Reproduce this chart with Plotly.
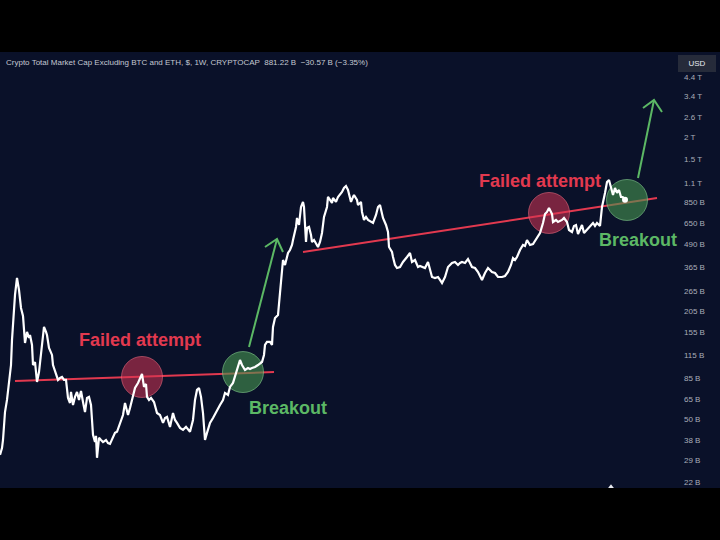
import math
import plotly.graph_objects as go

# ---------------- data (weeks since start, values in billions USD) ----------------
week = [
    0.0, 1.2, 1.8, 2.4, 3.0, 4.2, 5.4, 6.6, 7.2, 7.8, 8.4, 9.0,
    10.2, 11.4, 12.6, 13.2, 13.8, 15.0, 16.2, 17.4, 18.0, 19.2, 19.8, 21.0,
    22.2, 23.4, 25.2, 26.4, 27.6, 28.2, 29.4, 30.6, 31.2, 31.8, 33.0, 33.6,
    34.8, 36.0, 37.2, 38.4, 39.6, 40.8, 42.0, 42.6, 43.8, 45.0, 46.2, 47.4,
    48.6, 49.8, 51.0, 52.2, 53.4, 54.6, 55.8, 57.0, 57.6, 58.2, 59.4, 60.6,
    61.8, 63.6, 64.8, 66.0, 67.8, 69.0, 70.2, 72.0, 73.8, 75.0, 76.8, 78.0,
    79.2, 81.0, 82.8, 84.0, 85.2, 86.4, 87.6, 88.2, 89.4, 90.6, 92.4, 94.2,
    96.0, 97.8, 99.0, 100.2, 102.0, 103.8, 105.0, 106.2, 108.0, 109.8, 111.6, 114.0,
    115.8, 117.0, 118.2, 119.4, 120.6, 121.8, 123.0, 124.2, 126.0, 127.8, 129.0, 130.2,
    132.0, 133.8, 135.0, 136.8, 138.0, 139.8, 141.0, 142.2, 143.4, 144.0, 145.2, 147.0,
    148.8, 150.0, 151.2, 153.0, 154.8, 157.2, 158.4, 159.0, 160.2, 162.0, 163.2, 163.8,
    165.0, 166.8, 168.0, 169.2, 169.8, 171.0, 172.2, 172.8, 174.0, 175.2, 175.8, 177.0,
    177.6, 178.2, 179.4, 180.6, 181.8, 182.4, 183.6, 184.2, 185.4, 186.6, 187.2, 188.4,
    189.6, 190.8, 192.0, 193.2, 194.4, 195.6, 196.2, 196.8, 198.0, 199.2, 199.8, 201.6,
    202.8, 204.0, 205.2, 206.4, 207.6, 208.8, 209.4, 210.6, 211.8, 212.4, 214.2, 214.8,
    216.6, 217.2, 218.4, 219.6, 220.8, 222.6, 223.8, 225.6, 226.8, 228.0, 229.2, 229.8,
    231.6, 232.8, 233.4, 235.2, 235.8, 237.0, 238.2, 240.0, 241.8, 243.0, 244.2, 246.0,
    247.2, 249.0, 250.8, 252.0, 253.2, 255.0, 256.8, 258.0, 259.2, 261.0, 262.8, 264.0,
    265.2, 267.0, 268.8, 270.0, 271.2, 273.0, 274.8, 276.0, 277.2, 279.0, 280.8, 282.0,
    283.2, 285.0, 286.8, 288.0, 289.2, 291.0, 292.8, 294.0, 295.2, 297.0, 298.8, 301.2,
    303.0, 304.8, 306.6, 307.8, 309.0, 310.2, 312.0, 313.8, 315.0, 316.2, 318.0, 319.8,
    321.0, 322.2, 324.0, 325.8, 327.0, 328.2, 329.4, 330.6, 331.2, 331.8, 333.6, 334.8,
    336.0, 337.2, 338.4, 340.2, 341.4, 343.2, 344.4, 345.6, 346.8, 348.0, 349.2, 350.4,
    351.6, 352.8, 354.0, 355.8, 357.0, 358.2, 360.0, 361.2, 363.0, 364.2, 365.4, 366.6,
    367.8, 369.0, 370.2, 371.4, 372.6, 373.8, 375.0,
]
market_cap_b = [
    31.3, 34.2, 38.0, 46.3, 54.8, 64.2, 78.1, 101.4, 140.8, 182.9, 222.6, 253.7,
    316.8, 270.8, 214.0, 203.0, 192.7, 135.4, 156.3, 144.5, 150.2, 131.9, 101.4, 105.5,
    81.2, 92.5, 131.9, 166.9, 156.3, 150.2, 126.8, 120.3, 115.7, 101.4, 92.5, 89.0,
    83.4, 85.6, 86.7, 83.4, 83.4, 65.9, 61.7, 71.3, 60.1, 66.8, 71.3, 64.2,
    72.2, 62.5, 54.8, 65.9, 66.8, 60.1, 40.7, 37.0, 40.1, 30.1, 39.1, 38.0,
    37.0, 38.0, 36.5, 36.1, 39.1, 41.7, 42.3, 46.9, 52.7, 61.7, 52.7, 57.8,
    64.2, 75.1, 80.2, 85.6, 90.2, 76.1, 79.1, 66.8, 64.2, 65.9, 62.5, 54.1,
    52.7, 47.5, 50.7, 51.4, 45.1, 54.1, 49.4, 47.5, 44.5, 43.4, 45.1, 42.3,
    49.4, 64.2, 73.2, 75.1, 66.8, 54.1, 38.0, 41.7, 47.5, 50.7, 53.4, 56.3,
    60.1, 64.2, 70.4, 68.6, 76.1, 80.2, 87.8, 95.0, 105.5, 108.3, 101.4, 95.0,
    97.5, 96.3, 97.5, 98.8, 101.4, 105.5, 115.7, 131.9, 137.2, 137.2, 131.9, 166.9,
    187.7, 195.2, 260.4, 351.8, 401.0, 375.6, 417.0, 439.4, 457.0, 488.0, 521.0, 571.0,
    617.8, 695.0, 634.0, 802.7, 857.0, 802.7, 507.6, 609.7, 617.8, 556.3, 507.6, 521.0,
    501.0, 475.4, 507.6, 571.0, 704.2, 771.7, 802.7, 915.0, 879.7, 845.8, 903.0, 857.0,
    915.0, 939.3, 976.9, 1029.0, 1056.0, 1002.8, 939.3, 857.0, 915.0, 939.3, 879.7, 824.0,
    857.0, 751.8, 677.0, 704.2, 677.0, 659.5, 651.0, 722.9, 802.7, 824.0, 751.8, 695.0,
    634.0, 578.6, 475.4, 445.2, 417.0, 375.6, 361.1, 365.9, 390.7, 401.0, 417.0, 439.4,
    390.7, 401.0, 365.9, 370.7, 365.9, 361.1, 390.7, 351.8, 321.0, 316.8, 321.0, 308.7,
    296.8, 321.0, 365.9, 375.6, 385.6, 390.7, 375.6, 385.6, 390.7, 385.6, 406.2, 385.6,
    365.9, 361.1, 342.7, 325.2, 308.7, 338.3, 361.1, 351.8, 342.7, 338.3, 321.0, 321.0,
    325.2, 342.7, 375.6, 411.6, 401.0, 417.0, 457.0, 488.0, 481.7, 521.0, 488.0, 494.4,
    514.2, 534.9, 571.0, 651.0, 732.3, 751.8, 792.3, 751.8, 732.3, 659.5, 677.0, 659.5,
    668.2, 677.0, 695.0, 659.5, 593.9, 578.6, 625.9, 634.0, 563.6, 601.8, 634.0, 571.0,
    586.2, 609.7, 617.8, 651.0, 625.9, 651.0, 625.9, 802.7, 964.2, 1113.0, 1142.6, 1015.7,
    939.3, 1029.0, 964.2, 1002.8, 915.0, 911.8, 881.22,
]
assert len(week) == len(market_cap_b)

# resistance trend lines (start/end week, value)
trend1_week = [9.0, 164.4]
trend1_val = [82.3, 92.5]
trend2_week = [181.8, 394.2]
trend2_val = [445.2, 903.0]

# highlight circles
failed_week = [85.2, 329.4]
failed_val = [86.7, 742.0]
breakout_week = [145.8, 376.2]
breakout_val = [92.5, 879.7]

# green arrows: shaft start, tip, left barb, right barb
arrow1_week = [149.4, 166.2, None, 159.0, 166.2, 169.8]
arrow1_val = [128.5, 527.9, None, 475.4, 527.9, 445.2]
arrow2_week = [382.8, 392.4, None, 385.8, 392.4, 397.2]
arrow2_val = [1172.9, 3256.0, None, 2932.0, 3256.0, 2783.0]

# text labels (week, value)
failed_label_week = [84.0, 324.0]
failed_label_val = [140.8, 1127.8]
breakout_label_week = [172.8, 382.8]
breakout_label_val = [57.8, 521.0]

# time-scale marker at the bottom edge
marker_week = [366.6]
marker_val = [20.6]

# price scale
tick_vals = [4400, 3400, 2600, 2000, 1500, 1100, 850, 650, 490, 365, 265, 205,
             155, 115, 85, 65, 50, 38, 29, 22]
tick_text = ["4.4 T", "3.4 T", "2.6 T", "2 T", "1.5 T", "1.1 T", "850 B", "650 B",
             "490 B", "365 B", "265 B", "205 B", "155 B", "115 B", "85 B", "65 B",
             "50 B", "38 B", "29 B", "22 B"]

title_text = "Crypto Total Market Cap Excluding BTC and ETH, $, 1W, CRYPTOCAP"
quote_text = "881.22 B  \u221230.57 B (\u22123.35%)"

# ---------------- styling ----------------
NAVY = "#0a1129"
RED = "#e2394f"
GREEN = "#5cb865"
WHITE = "#ffffff"
TICK = "#a9adb8"
FONT = "Liberation Sans, Arial, sans-serif"

fig = go.Figure()

fig.add_trace(go.Scatter(x=trend1_week, y=trend1_val, mode="lines",
                         line=dict(color=RED, width=2), hoverinfo="skip"))
fig.add_trace(go.Scatter(x=trend2_week, y=trend2_val, mode="lines",
                         line=dict(color=RED, width=2), hoverinfo="skip"))

fig.add_trace(go.Scatter(x=failed_week, y=failed_val, mode="markers",
                         marker=dict(size=41, color="rgba(214,52,84,0.55)",
                                     line=dict(color="rgba(240,110,130,0.55)", width=1)),
                         hoverinfo="skip"))
fig.add_trace(go.Scatter(x=breakout_week, y=breakout_val, mode="markers",
                         marker=dict(size=41, color="rgba(70,150,80,0.6)",
                                     line=dict(color="rgba(130,200,140,0.6)", width=1)),
                         hoverinfo="skip"))

fig.add_trace(go.Scatter(x=week, y=market_cap_b, mode="lines",
                         line=dict(color=WHITE, width=2.2), hoverinfo="skip"))
fig.add_trace(go.Scatter(x=[week[-1]], y=[market_cap_b[-1]], mode="markers",
                         marker=dict(size=6, color=WHITE), hoverinfo="skip"))

for aw, av in ((arrow1_week, arrow1_val), (arrow2_week, arrow2_val)):
    fig.add_trace(go.Scatter(x=aw, y=av, mode="lines",
                             line=dict(color=GREEN, width=2), hoverinfo="skip"))

fig.add_trace(go.Scatter(x=marker_week, y=marker_val, mode="markers",
                         marker=dict(symbol="triangle-up", size=5, color="#e8eaf0"),
                         cliponaxis=False, hoverinfo="skip"))

annotations = []
label_font = dict(family=FONT, size=18, weight="bold")
for w, v in zip(failed_label_week, failed_label_val):
    annotations.append(dict(x=w, y=math.log10(v), xref="x", yref="y", text="Failed attempt",
                            showarrow=False, font=dict(label_font, color=RED),
                            xanchor="center", yanchor="middle"))
for w, v in zip(breakout_label_week, breakout_label_val):
    annotations.append(dict(x=w, y=math.log10(v), xref="x", yref="y", text="Breakout",
                            showarrow=False, font=dict(label_font, color=GREEN),
                            xanchor="center", yanchor="middle"))

annotations.append(dict(x=0.006, y=0.977, xref="paper", yref="paper",
                        text=title_text + "  " + quote_text, showarrow=False,
                        xanchor="left", yanchor="middle",
                        font=dict(family=FONT, size=8, color="#c4c8d2")))
annotations.append(dict(x=1.025, y=0.974, xref="paper", yref="paper", text="USD",
                        showarrow=False, xanchor="center", yanchor="middle",
                        font=dict(family=FONT, size=8, color="#e8eaf0"),
                        bgcolor="#262b3a", bordercolor="#262b3a", borderpad=3, width=30))

shapes = [
    dict(type="rect", xref="paper", yref="paper", x0=-0.1, x1=1.2, y0=1.0, y1=1.3,
         fillcolor="#000000", line=dict(width=0), layer="above"),
    dict(type="rect", xref="paper", yref="paper", x0=-0.1, x1=1.2, y0=-0.3, y1=0.0,
         fillcolor="#000000", line=dict(width=0), layer="above"),
]

fig.update_layout(
    width=720, height=540,
    margin=dict(l=0, r=40, t=52, b=52),
    paper_bgcolor=NAVY, plot_bgcolor=NAVY,
    showlegend=False,
    annotations=annotations,
    shapes=shapes,
    xaxis=dict(range=[0, 408], visible=False, fixedrange=True),
    yaxis=dict(type="log", range=[1.3069, 3.7855], side="right",
               tickvals=tick_vals, ticktext=tick_text, showgrid=False,
               zeroline=False, showline=False, ticks="", ticklabelstandoff=3,
               tickfont=dict(family=FONT, size=8, color=TICK),
               fixedrange=True),
)

fig.write_html("out.html", config={"displayModeBar": False},
               post_script="document.body.style.margin='0px';document.body.style.background='#000';")
